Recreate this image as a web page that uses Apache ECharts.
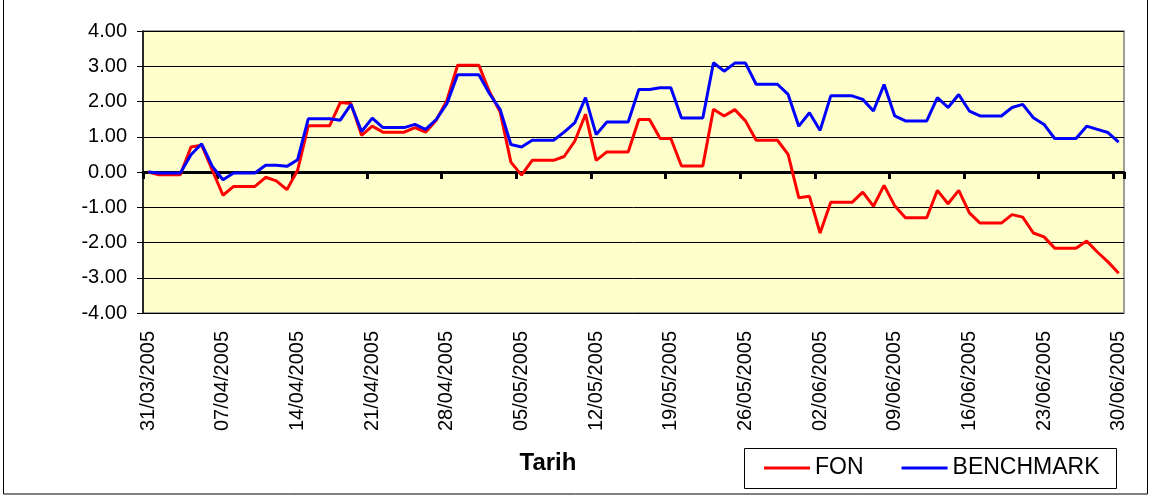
<!DOCTYPE html>
<html>
<head>
<meta charset="utf-8">
<script src="https://cdn.jsdelivr.net/npm/echarts@6/dist/echarts.min.js"></script>
<style>
html,body{margin:0;padding:0;background:#fff;}
#c{width:1153px;height:497px;}
</style>
</head>
<body>
<div id="c"></div>
<script>
const dates = [
"31/03/2005",
"01/04/2005","02/04/2005","03/04/2005","04/04/2005","05/04/2005","06/04/2005","07/04/2005","08/04/2005","09/04/2005","10/04/2005",
"11/04/2005","12/04/2005","13/04/2005","14/04/2005","15/04/2005","16/04/2005","17/04/2005","18/04/2005","19/04/2005","20/04/2005",
"21/04/2005","22/04/2005","23/04/2005","24/04/2005","25/04/2005","26/04/2005","27/04/2005","28/04/2005","29/04/2005","30/04/2005",
"01/05/2005","02/05/2005","03/05/2005","04/05/2005","05/05/2005","06/05/2005","07/05/2005","08/05/2005","09/05/2005","10/05/2005",
"11/05/2005","12/05/2005","13/05/2005","14/05/2005","15/05/2005","16/05/2005","17/05/2005","18/05/2005","19/05/2005","20/05/2005",
"21/05/2005","22/05/2005","23/05/2005","24/05/2005","25/05/2005","26/05/2005","27/05/2005","28/05/2005","29/05/2005","30/05/2005","31/05/2005",
"01/06/2005","02/06/2005","03/06/2005","04/06/2005","05/06/2005","06/06/2005","07/06/2005","08/06/2005","09/06/2005","10/06/2005",
"11/06/2005","12/06/2005","13/06/2005","14/06/2005","15/06/2005","16/06/2005","17/06/2005","18/06/2005","19/06/2005","20/06/2005",
"21/06/2005","22/06/2005","23/06/2005","24/06/2005","25/06/2005","26/06/2005","27/06/2005","28/06/2005","29/06/2005","30/06/2005"
];

const fon = [
0.00,-0.08,-0.08,-0.08,0.71,0.76,0.05,-0.66,-0.41,-0.41,
-0.41,-0.15,-0.25,-0.50,0.05,1.31,1.31,1.31,1.97,1.94,
1.04,1.30,1.13,1.13,1.13,1.26,1.13,1.47,2.03,3.03,
3.03,3.03,2.27,1.70,0.28,-0.09,0.33,0.33,0.33,0.44,
0.88,1.64,0.33,0.57,0.57,0.57,1.49,1.49,0.95,0.95,
0.17,0.17,0.17,1.78,1.59,1.77,1.45,0.90,0.90,0.90,
0.50,-0.73,-0.69,-1.73,-0.86,-0.86,-0.86,-0.57,-0.97,-0.38,
-0.96,-1.30,-1.30,-1.30,-0.52,-0.90,-0.52,-1.16,-1.45,-1.45,
-1.45,-1.21,-1.28,-1.73,-1.84,-2.16,-2.16,-2.16,-1.96,-2.27,
-2.55,-2.87
];

const benchmark = [
0.00,-0.03,-0.03,-0.03,0.49,0.80,0.16,-0.22,-0.03,-0.03,
-0.03,0.19,0.19,0.16,0.35,1.51,1.51,1.51,1.47,1.92,
1.15,1.53,1.26,1.26,1.26,1.35,1.21,1.49,1.94,2.76,
2.76,2.76,2.22,1.77,0.78,0.71,0.90,0.90,0.90,1.13,
1.40,2.11,1.06,1.42,1.42,1.42,2.34,2.34,2.39,2.39,
1.53,1.53,1.53,3.10,2.86,3.09,3.09,2.49,2.49,2.49,
2.20,1.30,1.68,1.18,2.16,2.16,2.16,2.06,1.73,2.48,
1.59,1.45,1.45,1.45,2.11,1.83,2.20,1.73,1.59,1.59,
1.59,1.83,1.92,1.54,1.35,0.95,0.95,0.95,1.30,1.21,
1.12,0.85
];

const seriesNames = ["FON", "BENCHMARK"];
const axisTitle = "Tarih";
const yMin = -4, yMax = 4, yStep = 1;

const FONT = "'Liberation Sans', Arial, sans-serif";
const chart = echarts.init(document.getElementById('c'), null, {renderer: 'canvas'});

chart.setOption({
  animation: false,
  backgroundColor: '#ffffff',
  textStyle: {fontFamily: FONT},
  grid: {
    left: 143, right: 29, top: 31, bottom: 184,
    show: true, backgroundColor: '#FFFFCC', borderColor: '#808080', borderWidth: 1.5
  },
  legend: {
    left: 764, top: 456,
    padding: 0,
    itemWidth: 46, itemHeight: 3, itemGap: 38,
    icon: 'rect',
    textStyle: {fontFamily: FONT, fontSize: 23, color: '#000', lineHeight: 24},
    data: seriesNames
  },
  xAxis: [
    {
      type: 'category', data: dates, position: 'bottom', boundaryGap: true,
      axisLine: {show: false, onZero: false},
      axisTick: {show: false},
      splitLine: {show: false},
      axisLabel: {
        interval: 6, rotate: 90, margin: 18,
        fontFamily: FONT, fontSize: 20, color: '#000'
      }
    },
    {
      type: 'category', data: dates, position: 'bottom', boundaryGap: true,
      axisLine: {show: true, onZero: true, lineStyle: {color: '#000', width: 3}},
      axisTick: {show: true, interval: 6, length: 7, inside: false, lineStyle: {color: '#000', width: 3}},
      axisLabel: {show: false},
      splitLine: {show: false}
    }
  ],
  yAxis: {
    type: 'value', min: yMin, max: yMax, interval: yStep,
    axisLine: {show: true, onZero: false, lineStyle: {color: '#000', width: 1.5}},
    axisTick: {show: true, length: 6, inside: false, lineStyle: {color: '#000', width: 1}},
    splitLine: {show: true, lineStyle: {color: '#000', width: 1}},
    axisLabel: {
      margin: 16, fontFamily: FONT, fontSize: 20, color: '#000',
      formatter: v => v.toFixed(2)
    }
  },
  series: [
    {
      name: seriesNames[0], type: 'line', data: fon, xAxisIndex: 0,
      symbol: 'none', lineStyle: {color: '#FF0000', width: 3}, itemStyle: {color: '#FF0000'}
    },
    {
      name: seriesNames[1], type: 'line', data: benchmark, xAxisIndex: 0,
      symbol: 'none', lineStyle: {color: '#0000FF', width: 3}, itemStyle: {color: '#0000FF'}
    }
  ],
  graphic: [
    {type: 'rect', silent: true, z: -10,
     shape: {x: 3.5, y: -2, width: 1144, height: 496},
     style: {fill: null, stroke: '#000', lineWidth: 1}},
    {type: 'rect', silent: true, z: -5,
     shape: {x: 744.5, y: 448.5, width: 372, height: 40},
     style: {fill: '#fff', stroke: '#000', lineWidth: 1}},
    {type: 'text', silent: true,
     style: {x: 548, y: 463, text: axisTitle, align: 'center', verticalAlign: 'middle',
             font: "bold 24px 'Liberation Sans', Arial, sans-serif", fill: '#000'}}
  ]
});
</script>
</body>
</html>
